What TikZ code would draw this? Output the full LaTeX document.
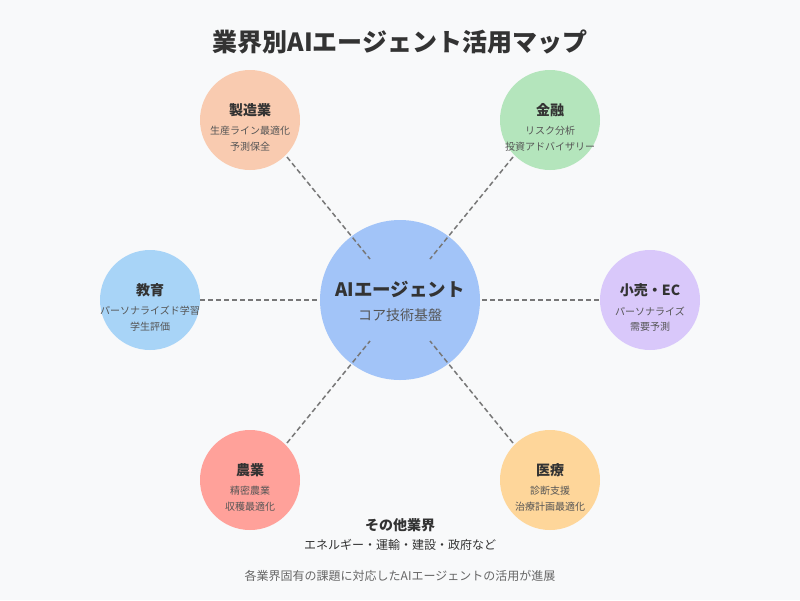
\documentclass[tikz,border=0pt]{standalone}
\usepackage{fontspec}
\setmainfont{Noto Sans CJK JP}
\newfontfamily\cjk{Noto Sans CJK JP}
\definecolor{bg}{HTML}{F8F9FA}
\definecolor{txt}{HTML}{333333}
\definecolor{subtxt}{HTML}{555555}
\definecolor{foot}{HTML}{666666}
\definecolor{dashc}{HTML}{777777}
\definecolor{cmain}{HTML}{A2C4F8}
\definecolor{cmfg}{HTML}{F9CBB0}
\definecolor{cfin}{HTML}{B4E5BC}
\definecolor{cedu}{HTML}{A8D4F7}
\definecolor{cret}{HTML}{D9C8FA}
\definecolor{cagr}{HTML}{FFA19A}
\definecolor{cmed}{HTML}{FED69A}
\tikzset{
  outer/.style={circle, minimum size=100pt, inner sep=0pt, draw=none},
  inner/.style={circle, minimum size=160pt, inner sep=0pt, draw=none, fill=cmain},
  ttl/.style={font=\fontsize{14}{16}\selectfont\bfseries, text=txt, inner sep=0pt},
  sub/.style={font=\fontsize{10}{12}\selectfont, text=subtxt, inner sep=0pt},
  conn/.style={draw=dashc, line width=1.5pt, dash pattern=on 5pt off 3pt},
}
\begin{document}
\begin{tikzpicture}[x=1pt,y=-1pt]
\fill[bg] (0,0) rectangle (800,600);
\useasboundingbox (0,0) rectangle (800,600);
\node[font=\fontsize{25}{28}\selectfont\bfseries, text=txt] (title) at (400,42) {業界別AIエージェント活用マップ};

% outer circles
\node[outer, fill=cmfg] (mfg) at (250,120) {};
\node[outer, fill=cfin] (fin) at (550,120) {};
\node[outer, fill=cedu] (edu) at (150,300) {};
\node[outer, fill=cret] (ret) at (650,300) {};
\node[outer, fill=cagr] (agr) at (250,480) {};
\node[outer, fill=cmed] (med) at (550,480) {};

% center
\node[inner] (ai) at (400,300) {};

% connector endpoints
\coordinate (aTL) at (370,259);
\coordinate (aTR) at (430,259);
\coordinate (aBL) at (370,341);
\coordinate (aBR) at (430,341);
\coordinate (aL) at (318,300);
\coordinate (aR) at (482,300);
\coordinate (mfgE) at (287,157);
\coordinate (finE) at (513,157);
\coordinate (agrE) at (287,443);
\coordinate (medE) at (513,443);

\draw[conn] (mfgE) -- (aTL);
\draw[conn] (finE) -- (aTR);
\draw[conn] (agrE) -- (aBL);
\draw[conn] (medE) -- (aBR);
\draw[conn] (edu.east) -- (aL);
\draw[conn] (aR) -- (ret.west);

% center text
\node[font=\fontsize{18.5}{20}\selectfont\bfseries, text=txt, inner sep=0pt] (aiT) at (400,289) {AIエージェント};
\node[font=\fontsize{14}{16}\selectfont, text=subtxt, inner sep=0pt] (aiS) at (400,315) {コア技術基盤};

% outer texts
\node[ttl] (mfgT) at (250,110) {製造業};
\node[sub] (mfgS1) at (250,131) {生産ライン最適化};
\node[sub] (mfgS2) at (250,147) {予測保全};

\node[ttl] (finT) at (550,110) {金融};
\node[sub] (finS1) at (550,131) {リスク分析};
\node[sub] (finS2) at (550,147) {投資アドバイザリー};

\node[ttl] (eduT) at (150,290) {教育};
\node[sub] (eduS1) at (150,311) {パーソナライズド学習};
\node[sub] (eduS2) at (150,327) {学生評価};

\node[ttl] (retT) at (650,290) {小売・EC};
\node[sub] (retS1) at (650,311) {パーソナライズ};
\node[sub] (retS2) at (650,327) {需要予測};

\node[ttl] (agrT) at (250,470) {農業};
\node[sub] (agrS1) at (250,491) {精密農業};
\node[sub] (agrS2) at (250,507) {収穫最適化};

\node[ttl] (medT) at (550,470) {医療};
\node[sub] (medS1) at (550,491) {診断支援};
\node[sub] (medS2) at (550,507) {治療計画最適化};

% bottom
\node[font=\fontsize{14}{16}\selectfont\bfseries, text=txt, inner sep=0pt] (oth) at (400,525) {その他業界};
\node[font=\fontsize{12}{14}\selectfont, text=txt, inner sep=0pt] (othS) at (400,545) {エネルギー・運輸・建設・政府など};
\node[font=\fontsize{12}{14}\selectfont, text=foot, inner sep=0pt] (footer) at (400,576) {各業界固有の課題に対応したAIエージェントの活用が進展};
\end{tikzpicture}
\end{document}
